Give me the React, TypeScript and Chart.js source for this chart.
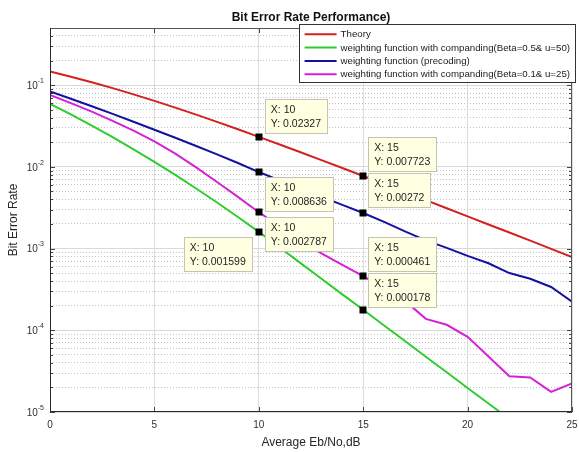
import React, { useEffect, useRef } from "react";
import { Chart, registerables } from "chart.js";

Chart.register(...registerables);

// ---------- data ----------
const snrDb = [0, 1, 2, 3, 4, 5, 6, 7, 8, 9, 10, 11, 12, 13, 14, 15, 16, 17, 18, 19, 20, 21, 22, 23, 24, 25];
const theoryBer = [0.1464, 0.1267, 0.1085, 0.0919, 0.0771, 0.0642, 0.053, 0.0435, 0.0355, 0.0288, 0.02327, 0.01875, 0.01506, 0.01208, 0.00967, 0.007723, 0.00616, 0.00491, 0.00391, 0.00311, 0.00248, 0.00197, 0.00157, 0.00125, 0.000992, 0.000788];
const compandingB05Ber = [0.059, 0.0438, 0.032, 0.0231, 0.0164, 0.01151, 0.00796, 0.00543, 0.00366, 0.00243, 0.001599, 0.00103, 0.000664, 0.000428, 0.000275, 0.000178, 0.0001146, 0.0000738, 0.0000475, 0.0000306, 0.0000197, 0.0000127, 0.0000082, 0.0000053, 0.0000034, 0.0000022];
const precodingBer = [0.0839, 0.0682, 0.0552, 0.0445, 0.0356, 0.0284, 0.0227, 0.018, 0.01422, 0.01114, 0.008636, 0.00684, 0.00543, 0.00431, 0.00343, 0.00272, 0.00212, 0.00162, 0.00126, 0.00102, 0.000813, 0.000661, 0.000501, 0.000427, 0.000339, 0.000224];
const compandingB01Ber = [0.0759, 0.0603, 0.0473, 0.0366, 0.0277, 0.0205, 0.0145, 0.00984, 0.00653, 0.00429, 0.002787, 0.00186, 0.00126, 0.000871, 0.000631, 0.000461, 0.000324, 0.000229, 0.000138, 0.0001167, 0.000083, 0.0000479, 0.0000274, 0.0000265, 0.0000176, 0.0000223];

const seriesLabels = [
  "Theory",
  "weighting function with companding(Beta=0.5& u=50)",
  "weighting function (precoding)",
  "weighting function with companding(Beta=0.1& u=25)",
];
const seriesValues = [theoryBer, compandingB05Ber, precodingBer, compandingB01Ber];
const seriesColors = ["#d42020", "#2fcc2f", "#1212a0", "#d422d4"];

const chartTitle = "Bit Error Rate Performance)";
const xAxisTitle = "Average Eb/No,dB";
const yAxisTitle = "Bit Error Rate";
const xTickValues = [0, 5, 10, 15, 20, 25];
const yDecades = [-5, -4, -3, -2, -1];
const yMantissas = [1, 2, 3, 4, 5, 6, 7, 8, 9];
const xMin = 0;
const xMax = 25;
const yMin = 1e-5;
const yMax = 0.5;

// data tips (values)
const tipX = [10, 15, 10, 15, 10, 10, 15, 15];
const tipY = [0.02327, 0.007723, 0.008636, 0.00272, 0.002787, 0.001599, 0.000461, 0.000178];
// data tip box placement (layout only, pixels relative to the marker)
const tipBoxDx = [6, 5, 6, 5, 6, -7, 5, 5];
const tipBoxDy = [-38, -39, 5, -40, 5, 5, -39, -37];

// ---------- helpers ----------
const FONT = "'Liberation Sans', Arial, Helvetica, sans-serif";
const isDecade = (v: number) => Math.abs(Math.log10(v) - Math.round(Math.log10(v))) < 1e-6;

const overlayPlugin = {
  id: "overlay",
  afterDraw(chart: any) {
    const { ctx, chartArea: a, scales } = chart;
    const xs = scales.x;
    const ys = scales.y;
    ctx.save();

    // inward tick marks
    ctx.strokeStyle = "#444";
    ctx.lineWidth = 1;
    ctx.beginPath();
    for (const t of ys.ticks) {
      const py = Math.round(ys.getPixelForValue(t.value)) + 0.5;
      const len = isDecade(t.value) ? 5 : 3;
      ctx.moveTo(a.left, py);
      ctx.lineTo(a.left + len, py);
      ctx.moveTo(a.right, py);
      ctx.lineTo(a.right - len, py);
    }
    for (const v of xTickValues) {
      const px = Math.round(xs.getPixelForValue(v)) + 0.5;
      ctx.moveTo(px, a.bottom);
      ctx.lineTo(px, a.bottom - 5);
      ctx.moveTo(px, a.top);
      ctx.lineTo(px, a.top + 5);
    }
    ctx.stroke();

    // axes box
    ctx.strokeStyle = "#555";
    ctx.beginPath();
    ctx.moveTo(a.left, Math.round(a.top) + 0.5);
    ctx.lineTo(a.right, Math.round(a.top) + 0.5);
    ctx.moveTo(Math.round(a.right) - 0.5, a.top);
    ctx.lineTo(Math.round(a.right) - 0.5, a.bottom);
    ctx.stroke();
    ctx.strokeStyle = "#2a2a2a";
    ctx.beginPath();
    ctx.moveTo(Math.round(a.left) + 0.5, a.top);
    ctx.lineTo(Math.round(a.left) + 0.5, a.bottom);
    ctx.moveTo(a.left, Math.round(a.bottom) - 0.5);
    ctx.lineTo(a.right, Math.round(a.bottom) - 0.5);
    ctx.stroke();

    // tick labels
    ctx.fillStyle = "#303030";
    ctx.textBaseline = "middle";
    ctx.textAlign = "center";
    ctx.font = `10px ${FONT}`;
    for (const v of xTickValues) {
      ctx.fillText(String(v), xs.getPixelForValue(v), a.bottom + 13);
    }
    ctx.textAlign = "left";
    for (const d of yDecades) {
      const py = ys.getPixelForValue(Math.pow(10, d));
      const exp = String(d);
      ctx.font = `7px ${FONT}`;
      const ew = ctx.measureText(exp).width;
      ctx.font = `10px ${FONT}`;
      const bw = ctx.measureText("10").width;
      const right = a.left - 6;
      ctx.fillText("10", right - ew - bw, py + 1);
      ctx.font = `7px ${FONT}`;
      ctx.fillText(exp, right - ew, py - 4);
    }

    // axis titles
    ctx.font = `12px ${FONT}`;
    ctx.textAlign = "center";
    ctx.fillStyle = "#262626";
    ctx.fillText(xAxisTitle, (a.left + a.right) / 2, a.bottom + 31);
    ctx.save();
    ctx.translate(14, (a.top + a.bottom) / 2);
    ctx.rotate(-Math.PI / 2);
    ctx.fillText(yAxisTitle, 0, 0);
    ctx.restore();

    // chart title
    ctx.font = `bold 12px ${FONT}`;
    ctx.fillStyle = "#111";
    ctx.fillText(chartTitle, (a.left + a.right) / 2, a.top - 10);

    // data tips
    ctx.font = `10.5px ${FONT}`;
    for (let i = 0; i < tipX.length; i++) {
      const px = xs.getPixelForValue(tipX[i]);
      const py = ys.getPixelForValue(tipY[i]);
      const l1 = `X: ${tipX[i]}`;
      const l2 = `Y: ${tipY[i]}`;
      const w = Math.max(ctx.measureText(l1).width, ctx.measureText(l2).width) + 12;
      const h = 34;
      const bx = tipBoxDx[i] >= 0 ? px + tipBoxDx[i] : px + tipBoxDx[i] - w;
      const by = py + tipBoxDy[i];
      ctx.fillStyle = "#ffffe2";
      ctx.fillRect(Math.round(bx) + 0.5, Math.round(by) + 0.5, Math.round(w), h);
      ctx.strokeStyle = "#c4c4b0";
      ctx.lineWidth = 1;
      ctx.strokeRect(Math.round(bx) + 0.5, Math.round(by) + 0.5, Math.round(w), h);
      ctx.fillStyle = "#1e1e1e";
      ctx.textAlign = "left";
      ctx.fillText(l1, bx + 6, by + 11);
      ctx.fillText(l2, bx + 6, by + 25);
    }
    ctx.fillStyle = "#000";
    for (let i = 0; i < tipX.length; i++) {
      const px = xs.getPixelForValue(tipX[i]);
      const py = ys.getPixelForValue(tipY[i]);
      ctx.fillRect(Math.round(px) - 3.5, Math.round(py) - 3.5, 7, 7);
    }

    // legend (inside the axes, top right)
    ctx.font = `9.7px ${FONT}`;
    const textW = Math.max(...seriesLabels.map((s) => ctx.measureText(s).width));
    const lw = 6 + 32 + 4 + textW + 5;
    const lh = 58;
    const lr = a.right + 3;
    const lt = a.top - 4;
    const ll = lr - lw;
    ctx.fillStyle = "#ffffff";
    ctx.fillRect(Math.round(ll) + 0.5, Math.round(lt) + 0.5, Math.round(lw), lh);
    ctx.strokeStyle = "#333";
    ctx.strokeRect(Math.round(ll) + 0.5, Math.round(lt) + 0.5, Math.round(lw), lh);
    seriesLabels.forEach((lab, i) => {
      const yy = lt + 10.3 + i * 13.3;
      ctx.strokeStyle = seriesColors[i];
      ctx.lineWidth = 2;
      ctx.beginPath();
      ctx.moveTo(ll + 6, yy);
      ctx.lineTo(ll + 38, yy);
      ctx.stroke();
      ctx.fillStyle = "#1a1a1a";
      ctx.textAlign = "left";
      ctx.fillText(lab, ll + 42, yy + 0.5);
    });

    ctx.restore();
  },
};

export default function App() {
  const ref = useRef<HTMLCanvasElement>(null);

  useEffect(() => {
    document.body.style.margin = "0";
    const canvas = ref.current;
    if (!canvas) return;
    const chart = new Chart(canvas, {
      type: "line",
      data: {
        datasets: seriesValues.map((vals, i) => ({
          label: seriesLabels[i],
          data: snrDb.map((x, j) => ({ x, y: vals[j] })),
          borderColor: seriesColors[i],
          backgroundColor: seriesColors[i],
          borderWidth: 2,
          pointRadius: 0,
          tension: 0,
          fill: false,
        })),
      },
      options: {
        responsive: false,
        animation: false,
        events: [],
        layout: { padding: { left: 50, right: 7, top: 28, bottom: 40 } },
        plugins: {
          legend: { display: false },
          title: { display: false },
          tooltip: { enabled: false },
        },
        scales: {
          x: {
            type: "linear",
            min: xMin,
            max: xMax,
            ticks: { display: false, stepSize: 5 },
            afterBuildTicks: (scale: any) => {
              scale.ticks = xTickValues.map((v) => ({ value: v }));
            },
            grid: { color: "#dcdcdc", lineWidth: 1, drawTicks: false },
            border: { display: false },
          },
          y: {
            type: "logarithmic",
            min: yMin,
            max: yMax,
            ticks: { display: false },
            afterBuildTicks: (scale: any) => {
              const t: any[] = [];
              for (const d of yDecades) {
                for (const m of yMantissas) {
                  const v = m * Math.pow(10, d);
                  if (v <= yMax * 1.0001) t.push({ value: v, major: m === 1 });
                }
              }
              scale.ticks = t;
            },
            grid: {
              drawTicks: false,
              lineWidth: 1,
              color: (c: any) => (c.tick && isDecade(c.tick.value) ? "#d8d8d8" : "#c4c4c4"),
            },
            border: {
              display: false,
              dash: (c: any) => (c.tick && isDecade(c.tick.value) ? [] : [1, 2]),
            },
          },
        },
      },
      plugins: [overlayPlugin],
    } as any);
    return () => chart.destroy();
  }, []);

  return (
    <div style={{ width: 579, height: 452, background: "#fff" }}>
      <canvas ref={ref} width={579} height={452} style={{ display: "block" }} />
    </div>
  );
}
